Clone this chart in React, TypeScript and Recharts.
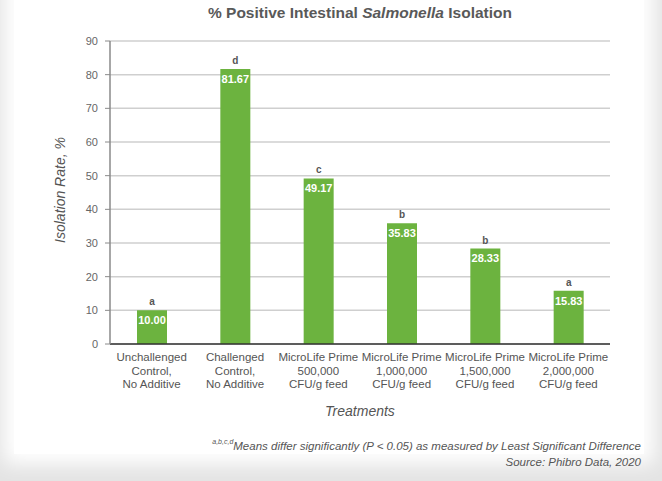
import { BarChart, Bar, XAxis, YAxis, CartesianGrid, LabelList } from 'recharts'

const categories = [
  ['Unchallenged', 'Control,', 'No Additive'],
  ['Challenged', 'Control,', 'No Additive'],
  ['MicroLife Prime', '500,000', 'CFU/g feed'],
  ['MicroLife Prime', '1,000,000', 'CFU/g feed'],
  ['MicroLife Prime', '1,500,000', 'CFU/g feed'],
  ['MicroLife Prime', '2,000,000', 'CFU/g feed'],
]
const isolationRate = [10.0, 81.67, 49.17, 35.83, 28.33, 15.83]
const significance = ['a', 'd', 'c', 'b', 'b', 'a']
const yTicks = [0, 10, 20, 30, 40, 50, 60, 70, 80, 90]

const data = categories.map((lines, i) => ({
  name: lines.join(' '),
  value: isolationRate[i],
  sig: significance[i],
}))

const font = '"Liberation Sans", Arial, Helvetica, sans-serif'
const green = '#6cb33f'

function CategoryTick(props: any) {
  const { x, y, payload } = props
  const lines = categories[payload.index] ?? String(payload.value).split(' ')
  return (
    <text x={x} y={y} textAnchor="middle" fill="#555" fontSize={11.5} fontFamily={font}>
      {lines.map((l: string, i: number) => (
        <tspan key={i} x={x} dy={i === 0 ? 9 : 13.5}>
          {l}
        </tspan>
      ))}
    </text>
  )
}

export default function App() {
  return (
    <div style={{ position: 'absolute', left: 0, top: 0, width: 662, height: 481, overflow: 'hidden', background: '#e4e4e4', fontFamily: font }}>
      {/* soft white card */}
      <div
        style={{
          position: 'absolute',
          left: 14,
          top: -20,
          width: 630,
          height: 474,
          background: '#fff',
          boxShadow: '0 0 18px 10px #fff',
        }}
      />
      <div style={{ position: 'absolute', left: 0, top: 0 }}>
        <BarChart width={662} height={481} data={data} margin={{ top: 41, right: 52, bottom: 0, left: 0 }} barSize={30}>
          <CartesianGrid vertical={false} stroke="#cfcfcf" strokeWidth={1.5} />
          <XAxis
            dataKey="name"
            interval={0}
            tick={<CategoryTick />}
            tickLine={false}
            axisLine={{ stroke: '#333', strokeWidth: 1.5 }}
            height={137}
          />
          <YAxis
            domain={[0, 90]}
            ticks={yTicks}
            width={110}
            tickSize={5}
            tickMargin={7}
            tick={{ fill: '#666', fontSize: 11, fontFamily: font }}
            axisLine={{ stroke: '#8a8a8a', strokeWidth: 1.5 }}
            tickLine={{ stroke: '#8a8a8a' }}
            interval={0}
          />
          <Bar dataKey="value" fill={green} isAnimationActive={false}>
            <LabelList
              dataKey="value"
              position="insideTop"
              offset={6}
              formatter={(v: any) => Number(v).toFixed(2)}
              fill="#fff"
              fontSize={11}
              fontWeight="bold"
              fontFamily={font}
            />
            <LabelList dataKey="sig" position="top" offset={5} fill="#555" fontSize={10} fontWeight="bold" fontFamily={font} />
          </Bar>
        </BarChart>
      </div>

      <div
        style={{
          position: 'absolute',
          left: 60,
          width: 600,
          top: 4,
          textAlign: 'center',
          fontSize: 15.5,
          fontWeight: 'bold',
          color: '#595959',
        }}
      >
        % Positive Intestinal <i>Salmonella</i> Isolation
      </div>

      <div
        style={{
          position: 'absolute',
          left: 60 - 100,
          top: 190 - 10,
          width: 200,
          height: 20,
          lineHeight: '20px',
          textAlign: 'center',
          transform: 'rotate(-90deg)',
          fontSize: 14,
          fontStyle: 'italic',
          color: '#555',
        }}
      >
        Isolation Rate, %
      </div>

      <div
        style={{
          position: 'absolute',
          left: 60,
          width: 600,
          top: 403,
          textAlign: 'center',
          fontSize: 14,
          fontStyle: 'italic',
          color: '#555',
        }}
      >
        Treatments
      </div>

      <div
        style={{
          position: 'absolute',
          right: 21,
          top: 438,
          textAlign: 'right',
          fontSize: 11.5,
          fontStyle: 'italic',
          color: '#555',
          lineHeight: '16px',
        }}
      >
        <div>
          <sup style={{ fontSize: 7, verticalAlign: 'top', lineHeight: '8px' }}>a,b,c,d</sup>Means differ significantly (P &lt; 0.05) as measured by Least Significant Difference
        </div>
        <div>Source: Phibro Data, 2020</div>
      </div>
    </div>
  )
}
